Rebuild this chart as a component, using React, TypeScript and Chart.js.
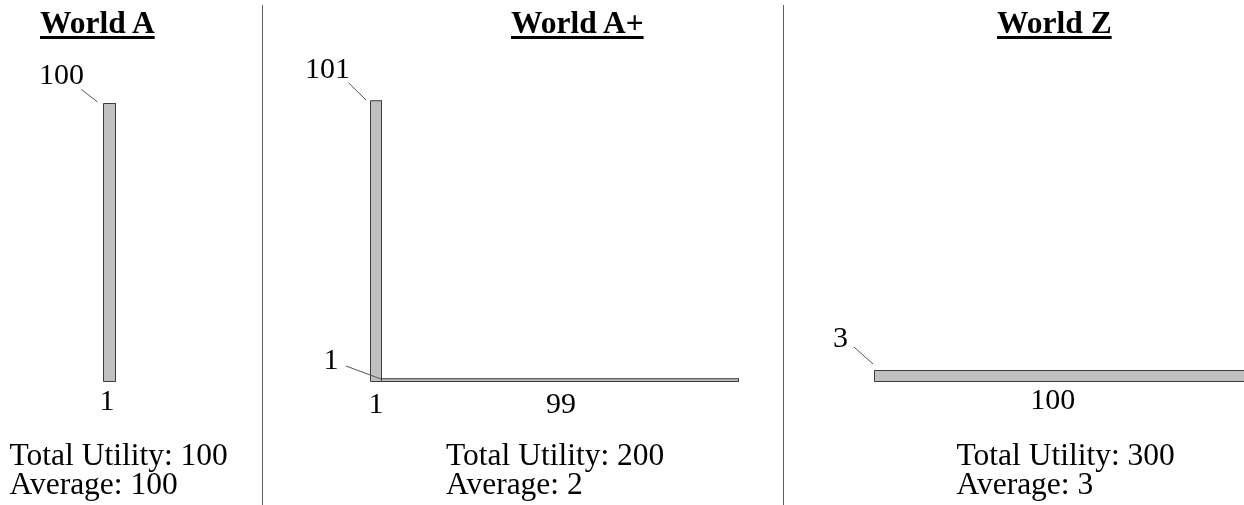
import React, { useEffect, useRef } from "react";
import { Chart, registerables } from "chart.js";

Chart.register(...registerables);

// ---------- data ----------
const worldNames = ["World A", "World A+", "World Z"];
const worldAPopulation = [1];
const worldAUtility = [100];
const worldAPlusPopulation = [1, 99];
const worldAPlusUtility = [101, 1];
const worldZPopulation = [100];
const worldZUtility = [3];
const totalUtility = [100, 200, 300];
const averageUtility = [100, 2, 3];

// ---------- layout / style ----------
const W = 1244;
const H = 505;
const FONT = '"Liberation Serif", "Times New Roman", Times, serif';
const BAR_FILL = "#c0c0c0";
const BAR_EDGE = "#3c3c3c";

// each bar gets its own x axis id, so the schematic widths can differ
type Bar = { world: number; start: number; pop: number; util: number; xAxis: string; yAxis: string };

function buildBars(world: number, pops: number[], utils: number[], xAxes: string[], yAxis: string): Bar[] {
  let start = 0;
  return pops.map((p, i) => {
    const b = { world, start, pop: p, util: utils[i], xAxis: xAxes[i], yAxis };
    start += p;
    return b;
  });
}

const bars: Bar[] = [
  ...buildBars(0, worldAPopulation, worldAUtility, ["xA"], "yA"),
  ...buildBars(1, worldAPlusPopulation, worldAPlusUtility, ["xAp1", "xAp2"], "yA"),
  ...buildBars(2, worldZPopulation, worldZUtility, ["xZ"], "yZ"),
];

// label placement relative to each bar's top-left corner (pixels)
const labelStyle = [
  { tx: -19.5, ty: -20, l0: [-22, -14], l1: [-6, -1.5], px: -2.5, py: 28.5 },
  { tx: -20.5, ty: -22.4, l0: [-22, -18], l1: [-4.5, -0.7], px: 0, py: 31.5 },
  { tx: -43, ty: -9.7, l0: [-35.5, -12.7], l1: [-0.5, 0.3], px: 1, py: 31 },
  { tx: -26.5, ty: -23.5, l0: [-20.5, -23.5], l1: [-1.5, -6.5], px: -6.5, py: 27.5 },
];

// scale ranges from two anchor (value -> pixel) pairs
function xSpan(v0: number, p0: number, v1: number, p1: number) {
  const k = (p1 - p0) / (v1 - v0);
  const min = v0 - p0 / k;
  return { min, max: min + W / k };
}
function ySpan(v0: number, p0: number, v1: number, p1: number) {
  const k = (p0 - p1) / (v1 - v0);
  const min = v0 - (H - p0) / k;
  return { min, max: min + H / k };
}

const scaleAnchors: Record<string, { min: number; max: number }> = {
  xA: xSpan(0, 103.5, 1, 115.5),
  xAp1: xSpan(0, 370.5, 1, 381.5),
  xAp2: xSpan(1, 381.5, 100, 738.5),
  xZ: xSpan(0, 874.5, 100, 1249.5),
  yA: ySpan(0, 381.5, 100, 103.5),
  yZ: ySpan(0, 381.5, 3, 370.5),
};

const titleLeft = [40, 511, 997];
const captionLeft = [9.5, 446, 956.5];
const separatorLeft = [262, 783];

const labelPlugin = {
  id: "barLabels",
  afterDatasetsDraw(chart: any) {
    const ctx: CanvasRenderingContext2D = chart.ctx;
    const area = chart.chartArea;
    bars.forEach((b, i) => {
      const xs = chart.scales[b.xAxis];
      const ys = chart.scales[b.yAxis];
      const left = xs.getPixelForValue(b.start);
      const right = xs.getPixelForValue(b.start + b.pop);
      const top = ys.getPixelForValue(b.util);
      const bottom = ys.getPixelForValue(0);
      const st = labelStyle[i];
      ctx.save();
      ctx.font = `30px ${FONT}`;
      ctx.fillStyle = "#000";
      ctx.textBaseline = "alphabetic";
      ctx.textAlign = "right";
      ctx.fillText(String(b.util), left + st.tx, top + st.ty);
      ctx.strokeStyle = "#555";
      ctx.lineWidth = 1;
      ctx.beginPath();
      ctx.moveTo(left + st.l0[0], top + st.l0[1]);
      ctx.lineTo(left + st.l1[0], top + st.l1[1]);
      ctx.stroke();
      const cx = (Math.max(left, area.left) + Math.min(right, area.right)) / 2;
      ctx.textAlign = "center";
      ctx.fillText(String(b.pop), cx + st.px, bottom + st.py);
      ctx.restore();
    });
  },
};

export default function App() {
  const ref = useRef<HTMLCanvasElement>(null);

  useEffect(() => {
    const datasets: any[] = [];
    // outlines first (drawn on top)
    bars.forEach((b) => {
      const s = b.start;
      const e = b.start + b.pop;
      datasets.push({
        data: [
          { x: s, y: 0 },
          { x: s, y: b.util },
          { x: e, y: b.util },
          { x: e, y: 0 },
          { x: s, y: 0 },
        ],
        xAxisID: b.xAxis,
        yAxisID: b.yAxis,
        fill: false,
        borderColor: BAR_EDGE,
        borderWidth: 1,
        pointRadius: 0,
        pointHoverRadius: 0,
        tension: 0,
      });
    });
    bars.forEach((b) => {
      const s = b.start;
      const e = b.start + b.pop;
      datasets.push({
        data: [
          { x: s, y: 0 },
          { x: s, y: b.util },
          { x: e, y: b.util },
          { x: e, y: 0 },
        ],
        xAxisID: b.xAxis,
        yAxisID: b.yAxis,
        fill: "origin",
        backgroundColor: BAR_FILL,
        borderColor: "transparent",
        borderWidth: 0,
        pointRadius: 0,
        pointHoverRadius: 0,
        tension: 0,
      });
    });

    const scales: any = {};
    Object.keys(scaleAnchors).forEach((id) => {
      scales[id] = {
        type: "linear",
        display: false,
        min: scaleAnchors[id].min,
        max: scaleAnchors[id].max,
        grid: { display: false },
      };
    });

    const chart = new Chart(ref.current as HTMLCanvasElement, {
      type: "line",
      data: { datasets },
      options: {
        responsive: false,
        animation: false,
        events: [],
        layout: { padding: 0 },
        plugins: {
          legend: { display: false },
          tooltip: { enabled: false },
          title: { display: false },
        },
        scales,
      },
      plugins: [labelPlugin],
    } as any);
    return () => chart.destroy();
  }, []);

  return (
    <div
      style={{
        position: "absolute",
        left: 0,
        top: 0,
        width: W,
        height: H,
        background: "#fff",
        overflow: "hidden",
        fontFamily: FONT,
        color: "#000",
      }}
    >
      <canvas ref={ref} width={W} height={H} style={{ position: "absolute", left: 0, top: 0 }} />
      {separatorLeft.map((x, i) => (
        <div
          key={"sep" + i}
          style={{ position: "absolute", left: x, top: 5, width: 1, height: H - 5, background: "#5e5e5e" }}
        />
      ))}
      {worldNames.map((name, i) => (
        <div
          key={"t" + i}
          style={{
            position: "absolute",
            left: titleLeft[i],
            top: 8,
            fontSize: 31.5,
            lineHeight: "30px",
            fontWeight: "bold",
            whiteSpace: "nowrap",
            textDecoration: "underline",
            textDecorationThickness: "3px",
            textUnderlineOffset: "3px",
          }}
        >
          {name}
        </div>
      ))}
      {worldNames.map((_, i) => (
        <div
          key={"c" + i}
          style={{
            position: "absolute",
            left: captionLeft[i],
            top: 441,
            fontSize: 31.5,
            lineHeight: "28.5px",
            whiteSpace: "nowrap",
          }}
        >
          <div>{`Total Utility: ${totalUtility[i]}`}</div>
          <div>{`Average: ${averageUtility[i]}`}</div>
        </div>
      ))}
    </div>
  );
}
